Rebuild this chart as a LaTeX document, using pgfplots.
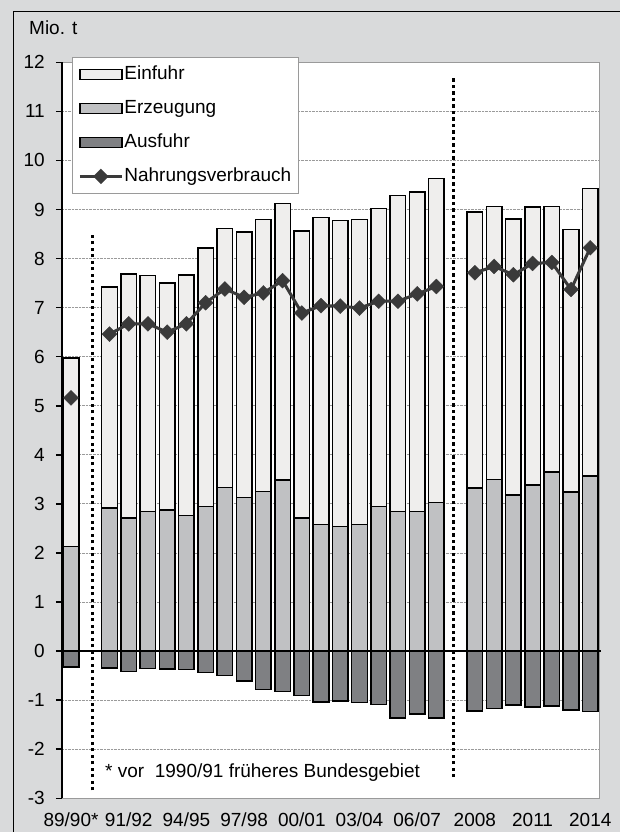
\documentclass[border=0pt]{standalone}
\usepackage{pgfplots}
\usepackage{pgfplotstable}
\pgfplotsset{compat=1.18}
\usepackage{fontspec}
\setmainfont{Liberation Sans}
\definecolor{bg}{HTML}{D9DADB}
\definecolor{cein}{HTML}{EFEEED}
\definecolor{cerz}{HTML}{C0C1C3}
\definecolor{caus}{HTML}{7F8083}
\definecolor{cline}{HTML}{3A3A3A}
\definecolor{cgrid}{HTML}{9A9A9A}
\pgfplotsset{
  barleg/.style={legend image code/.code={\draw[##1] (0bp,-5bp) rectangle (42bp,5bp);}},
  lineleg/.style={legend image code/.code={\draw[##1, mark repeat=2, mark phase=2] plot coordinates {(0bp,0bp) (21bp,0bp) (42bp,0bp)};}},
}

\pgfplotstableread{
slot erz  ein   aus   nv
0    2.13 3.84 -0.32 5.16
1    nan  nan   nan   nan
2    2.92 4.50 -0.34 6.46
3    2.71 4.98 -0.42 6.67
4    2.84 4.81 -0.35 6.67
5    2.88 4.62 -0.36 6.50
6    2.76 4.91 -0.37 6.67
7    2.95 5.27 -0.44 7.10
8    3.33 5.28 -0.50 7.38
9    3.13 5.41 -0.61 7.21
10   3.25 5.55 -0.78 7.30
11   3.49 5.63 -0.82 7.55
12   2.71 5.85 -0.90 6.89
13   2.58 6.26 -1.04 7.04
14   2.54 6.24 -1.02 7.03
15   2.58 6.22 -1.05 6.99
16   2.95 6.07 -1.09 7.13
17   2.84 6.45 -1.36 7.13
18   2.84 6.52 -1.28 7.28
19   3.03 6.60 -1.36 7.43
20   nan  nan   nan   nan
21   3.32 5.63 -1.22 7.71
22   3.50 5.56 -1.17 7.84
23   3.18 5.63 -1.10 7.67
24   3.39 5.66 -1.14 7.90
25   3.65 5.41 -1.12 7.92
26   3.24 5.35 -1.20 7.37
27   3.57 5.86 -1.23 8.22
}\datatable

\begin{document}
\begin{tikzpicture}
\fill[bg] (0,0) rectangle (620bp,832bp);
\draw[black, line width=1.3bp] (13.3bp,0) -- (13.3bp,820.3bp) -- (620bp,820.3bp);
\begin{axis}[
  at={(62bp,33.7bp)}, anchor=south west,
  scale only axis, width=537.3bp, height=736bp,
  xmin=-0.47, xmax=27.47, ymin=-3, ymax=12,
  clip=false,
  axis background/.style={fill=white},
  axis line style={draw=cgrid, line width=0.8bp},
  ytick={-3,...,12},
  yticklabels={-3,-2,-1,0,1,2,3,4,5,6,7,8,9,10,11,12},
  xtick={0,3,6,9,12,15,18,21,24,27},
  xticklabels={89/90*,91/92,94/95,97/98,00/01,03/04,06/07,2008,2011,2014},
  ticklabel style={font=\fontsize{19bp}{22bp}\selectfont},
  xtick style={draw=none},
  ytick style={black, line width=1.5bp},
  tick align=outside, major tick length=6bp,
  ytick pos=left, xtick pos=bottom,
  yticklabel style={anchor=east, inner sep=0pt, xshift=-11bp},
  xticklabel style={anchor=base, inner sep=0pt, yshift=-22bp},
  ymajorgrids, major grid style={densely dotted, cgrid, line width=0.8bp},
  unbounded coords=jump,
  legend style={at={(0.0186,1.0072)}, anchor=north west, draw=cgrid, fill=white,
    line width=0.8bp, font=\fontsize{19bp}{22bp}\selectfont,
    inner xsep=6bp, inner ysep=7bp, row sep=14bp,
    nodes={inner sep=1bp, text height=14bp, text depth=4bp},
    /tikz/every even column/.append style={column sep=4bp}},
  legend cell align=left,
]
\addplot[ybar, bar width=0.81, bar shift=0, fill=cein, draw=black, line width=1.5bp, barleg]
  table[x=slot, y expr=\thisrow{erz}+\thisrow{ein}] {\datatable};
\addlegendentry{Einfuhr}
\addplot[ybar, bar width=0.81, bar shift=0, fill=cerz, draw=black, line width=1.5bp, barleg]
  table[x=slot, y=erz] {\datatable};
\addlegendentry{Erzeugung}
\addplot[ybar, bar width=0.81, bar shift=0, fill=caus, draw=black, line width=1.5bp, barleg]
  table[x=slot, y=aus] {\datatable};
\addlegendentry{Ausfuhr}
\addplot[cline, line width=3bp, mark=square*, mark size=5.3bp,
  mark options={fill=cline, line width=0.3bp, rotate=45}, lineleg]
  table[x=slot, y=nv] {\datatable};
\addlegendentry{Nahrungsverbrauch}
\draw[black, line width=2.2bp] (axis cs:-0.73,0) -- (axis cs:27.56,0);
\draw[black, line width=2bp] (rel axis cs:0,0) -- (rel axis cs:0,1);
\draw[black, line width=3bp, dash pattern=on 3.2bp off 3.3bp] (axis cs:1.1,-2.84) -- (axis cs:1.1,8.47);
\draw[black, line width=3bp, dash pattern=on 3.2bp off 3.3bp] (axis cs:19.88,-2.57) -- (axis cs:19.88,11.69);
\end{axis}
\node[anchor=base west, inner sep=0pt, font=\fontsize{19bp}{22bp}\selectfont] at (29bp,797bp) {Mio. t};
\node[anchor=base west, inner sep=0pt, font=\fontsize{19bp}{22bp}\selectfont] at (105bp,54.3bp) {* vor\ \ 1990/91 früheres Bundesgebiet};
\pgfresetboundingbox
\useasboundingbox (0,0) rectangle (620bp,832bp);
\end{tikzpicture}
\end{document}
